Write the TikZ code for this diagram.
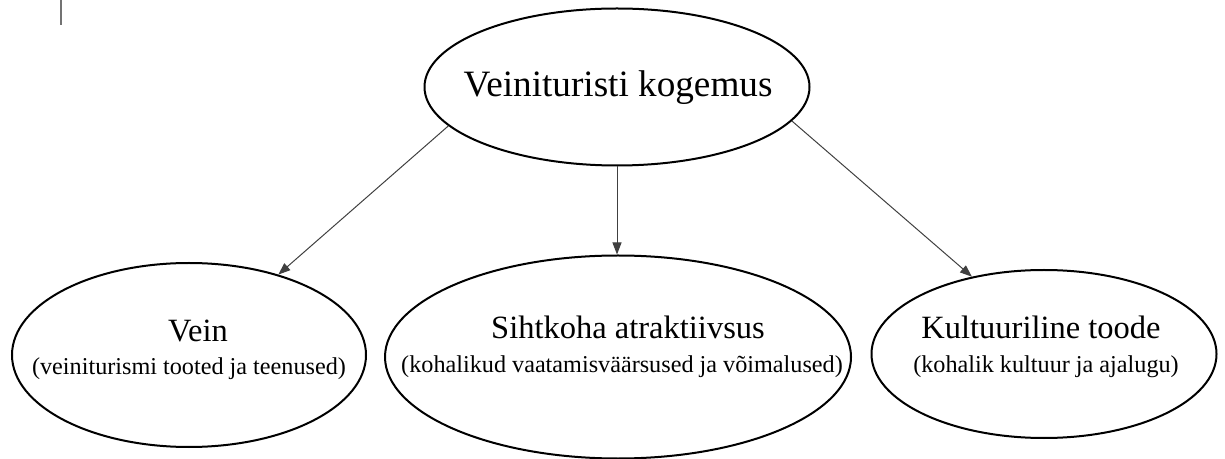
\documentclass[tikz,border=0pt]{standalone}
\usepackage{fontspec}
\setmainfont{Liberation Serif}
\usetikzlibrary{shapes.geometric, arrows.meta}

\begin{document}
\begin{tikzpicture}[x=0.5pt,y=-0.5pt,>={Triangle[length=6pt,width=4.5pt]},
    oval/.style={ellipse,draw,line width=1pt,inner sep=0pt},
    headtext/.style={anchor=base,inner sep=0pt,font=\fontsize{18.6}{22}\selectfont},
    titletext/.style={anchor=base,inner sep=0pt,font=\fontsize{16.25}{19}\selectfont},
    notetext/.style={anchor=base,inner sep=0pt,font=\fontsize{12.1}{14}\selectfont},
    link/.style={->,draw=black!75,line width=0.5pt}]
    \useasboundingbox (0,0) rectangle (1225,459);
    \draw[black!55,line width=0.7pt] (61,0) -- (61,25);
    % ellipses
    \node[oval, minimum width=192.5pt, minimum height=78.5pt] (top) at (617,87) {};
    \node[oval, minimum width=177pt, minimum height=92pt] (vein) at (189,355) {};
    \node[oval, minimum width=233pt, minimum height=101.5pt] (siht) at (618,357) {};
    \node[oval, minimum width=172.5pt, minimum height=84pt] (kult) at (1044,354) {};
    % texts
    \node[headtext] (toptxt) at (618,97) {Veinituristi kogemus};
    \node[titletext] (veintitle) at (198,342) {Vein};
    \node[notetext] (veinnote) at (189,374) {(veiniturismi tooted ja teenused)};
    \node[titletext] (sihttitle) at (628,339) {Sihtkoha atraktiivsus};
    \node[notetext] (sihtnote) at (622,372) {(kohalikud vaatamisväärsused ja võimalused)};
    \node[titletext] (kulttitle) at (1041,339) {Kultuuriline toode};
    \node[notetext] (kultnote) at (1046,372) {(kohalik kultuur ja ajalugu)};
    \path
    (top.193) edge[link] (vein.42)
    (top.south) edge[link] (top.south |- siht.north)
    (top.349) edge[link] (kult.133)
    ;
\end{tikzpicture}
\end{document}
